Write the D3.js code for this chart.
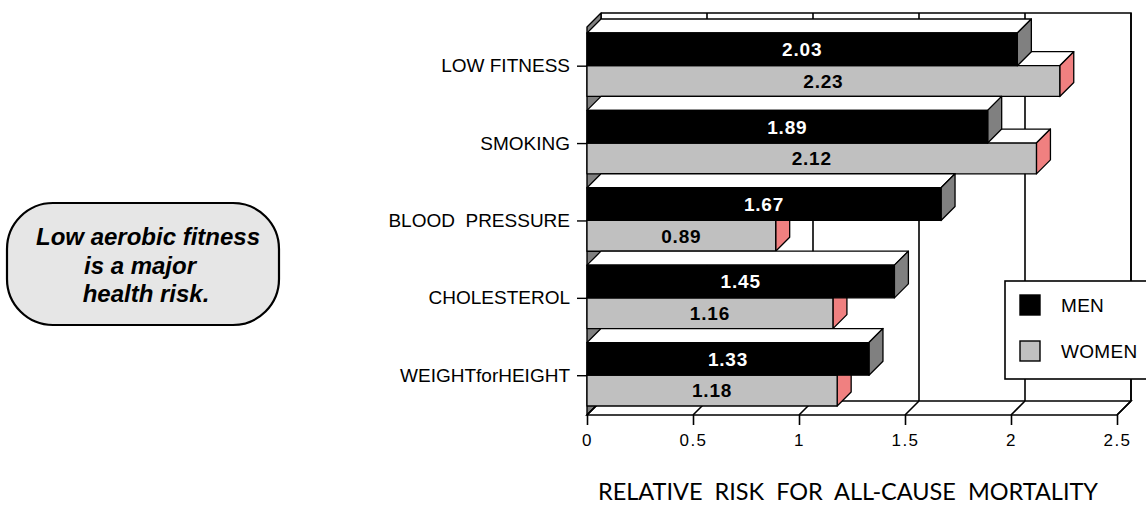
<!DOCTYPE html>
<html>
<head>
<meta charset="utf-8">
<script src="https://cdn.jsdelivr.net/npm/d3@7"></script>
<style>
  html, body { margin: 0; padding: 0; background: #ffffff; }
  svg { display: block; }
</style>
</head>
<body>
<svg id="chart" width="1146" height="506"></svg>
<script>
// ---- data ----
const categories = ["LOW FITNESS", "SMOKING", "BLOOD  PRESSURE", "CHOLESTEROL", "WEIGHTforHEIGHT"];
const menValues = [2.03, 1.89, 1.67, 1.45, 1.33];
const womenValues = [2.23, 2.12, 0.89, 1.16, 1.18];
const seriesNames = ["MEN", "WOMEN"];
const xTickValues = [0, 0.5, 1, 1.5, 2, 2.5];
const xTitle = "RELATIVE  RISK  FOR  ALL-CAUSE  MORTALITY";
const noteLines = ["Low aerobic fitness", "is a major", "health risk."];

// ---- layout ----
const svg = d3.select("#chart");
const DX = 14, DY = 14;
const boxTop = 27, boxBottom = 415;
const FONT = "'Liberation Sans', Arial, sans-serif";
const COL = { men: "#000000", menEnd: "#808080", women: "#c0c0c0", womenEnd: "#f08080", wall: "#808080" };

const x = d3.scaleLinear().domain([0, 2.5]).range([587, 1117]);
const y = d3.scaleBand().domain(categories).range([33, 406]).paddingInner(0.18).paddingOuter(0);
const bw = y.bandwidth();
const menH = bw * 0.515;
const yTick = d3.scalePoint().domain(categories)
  .range([y(categories[0]) + menH, y(categories[categories.length - 1]) + menH]);

const line = d3.line();
const poly = pts => line(pts) + "Z";

// ---- note bubble ----
const note = svg.append("g");
note.append("rect").attr("x", 7).attr("y", 203).attr("width", 272).attr("height", 122)
  .attr("rx", 46).attr("ry", 46)
  .attr("fill", "#e6e6e6").attr("stroke", "#000").attr("stroke-width", 2.2);
const noteX = [148, 140, 146];
note.selectAll("text").data(noteLines).join("text")
  .attr("x", (d, i) => noteX[i]).attr("y", (d, i) => 245 + i * 28.5)
  .attr("text-anchor", "middle")
  .attr("font-family", FONT).attr("font-size", 24).attr("font-weight", "bold").attr("font-style", "italic")
  .attr("fill", "#000").text(d => d);

// ---- back wall ----
const x0 = x(0), x1 = x(2.5);
const g = svg.append("g");
g.append("rect").attr("x", x0 + DX).attr("y", boxTop - DY)
  .attr("width", x1 - x0).attr("height", boxBottom - boxTop)
  .attr("fill", "#fff").attr("stroke", "none");
g.append("path").attr("d", line([[x0 + DX, boxTop - DY], [x1 + DX, boxTop - DY], [x1 + DX, boxBottom - DY]]))
  .attr("fill", "none").attr("stroke", "#000").attr("stroke-width", 1.6);
g.selectAll("line.grid").data(xTickValues).join("line").attr("class", "grid")
  .attr("x1", d => x(d) + DX).attr("x2", d => x(d) + DX)
  .attr("y1", boxTop - DY).attr("y2", boxBottom - DY)
  .attr("stroke", "#000").attr("stroke-width", 1.6);

// ---- left wall ----
g.append("path")
  .attr("d", poly([[x0, boxTop], [x0 + DX, boxTop - DY], [x0 + DX, boxBottom - DY], [x0, boxBottom]]))
  .attr("fill", COL.wall).attr("stroke", "#000").attr("stroke-width", 1.4).attr("stroke-linejoin", "round");

// ---- floor ----
g.append("path")
  .attr("d", poly([[x0, boxBottom], [x1, boxBottom], [x1 + DX, boxBottom - DY], [x0 + DX, boxBottom - DY]]))
  .attr("fill", "#fff").attr("stroke", "#000").attr("stroke-width", 1.6);
g.selectAll("line.floor").data(xTickValues).join("line").attr("class", "floor")
  .attr("x1", d => x(d)).attr("y1", boxBottom)
  .attr("x2", d => x(d) + DX).attr("y2", boxBottom - DY)
  .attr("stroke", "#000").attr("stroke-width", 1.6);

// ---- bars ----
function bar3d(parent, v, top, bottom, fill, endFill) {
  const xe = x(v);
  const bg = parent.append("g").attr("stroke", "#000").attr("stroke-width", 1.3).attr("stroke-linejoin", "round");
  bg.append("path").attr("d", poly([[x0, top], [xe, top], [xe + DX, top - DY], [x0 + DX, top - DY]])).attr("fill", "#fff");
  bg.append("path").attr("d", poly([[xe, top], [xe + DX, top - DY], [xe + DX, bottom - DY], [xe, bottom]])).attr("fill", endFill);
  bg.append("rect").attr("x", x0).attr("y", top).attr("width", xe - x0).attr("height", bottom - top).attr("fill", fill);
}
const bars = svg.append("g");
categories.forEach((c, i) => {
  const t = y(c), mid = t + menH, b = t + bw;
  bar3d(bars, womenValues[i], mid, b, COL.women, COL.womenEnd);
  bar3d(bars, menValues[i], t, mid, COL.men, COL.menEnd);
});

// ---- value labels ----
const labels = svg.append("g").attr("font-family", FONT).attr("font-weight", "bold")
  .attr("font-size", 19).attr("letter-spacing", 0.8).attr("text-anchor", "middle");
labels.selectAll("text.men").data(categories).join("text").attr("class", "men")
  .attr("x", (c, i) => (x0 + x(menValues[i])) / 2)
  .attr("y", c => y(c) + menH / 2).attr("dy", "0.36em")
  .attr("fill", "#fff").text((c, i) => menValues[i].toFixed(2));
labels.selectAll("text.women").data(categories).join("text").attr("class", "women")
  .attr("x", (c, i) => (x0 + x(womenValues[i])) / 2)
  .attr("y", c => y(c) + menH + (bw - menH) / 2).attr("dy", "0.36em")
  .attr("fill", "#000").text((c, i) => womenValues[i].toFixed(2));

// ---- axes ----
const yAxis = svg.append("g").attr("transform", `translate(${x0},0)`)
  .call(d3.axisLeft(yTick).tickSize(10).tickPadding(7));
yAxis.select(".domain").remove();
yAxis.selectAll("line").attr("stroke", "#000").attr("stroke-width", 1.4);
yAxis.selectAll("text").attr("font-family", FONT).attr("font-size", 19).attr("fill", "#000")
  .style("white-space", "pre");

const xAxis = svg.append("g").attr("transform", `translate(0,${boxBottom})`)
  .call(d3.axisBottom(x).tickValues(xTickValues).tickFormat(d => String(d)).tickSize(10).tickPadding(9));
xAxis.select(".domain").remove();
xAxis.selectAll("line").attr("stroke", "#000").attr("stroke-width", 1.6);
xAxis.selectAll("text").attr("font-family", FONT).attr("font-size", 17).attr("letter-spacing", 1.5)
  .attr("fill", "#000");

// ---- axis title ----
svg.append("text").attr("x", 598).attr("y", 500)
  .attr("font-family", "Lato, 'Liberation Sans', sans-serif").attr("font-weight", 400)
  .attr("font-size", 23).attr("fill", "#000")
  .attr("textLength", 500).attr("lengthAdjust", "spacingAndGlyphs")
  .style("white-space", "pre").text(xTitle);

// ---- legend ----
const legend = svg.append("g");
legend.append("rect").attr("x", 1005).attr("y", 281).attr("width", 160).attr("height", 98)
  .attr("fill", "#fff").attr("stroke", "#000").attr("stroke-width", 1.6);
const legendFills = [COL.men, COL.women];
const li = legend.selectAll("g.item").data(seriesNames).join("g").attr("class", "item")
  .attr("transform", (d, i) => `translate(1020,${295 + i * 46})`);
li.append("rect").attr("width", 20).attr("height", 20).attr("fill", (d, i) => legendFills[i])
  .attr("stroke", "#000").attr("stroke-width", 1.4);
li.append("text").attr("x", 41).attr("y", 10).attr("dy", "0.36em")
  .attr("font-family", FONT).attr("font-size", 19).attr("letter-spacing", 0.3).attr("fill", "#000").text(d => d);
</script>
</body>
</html>
